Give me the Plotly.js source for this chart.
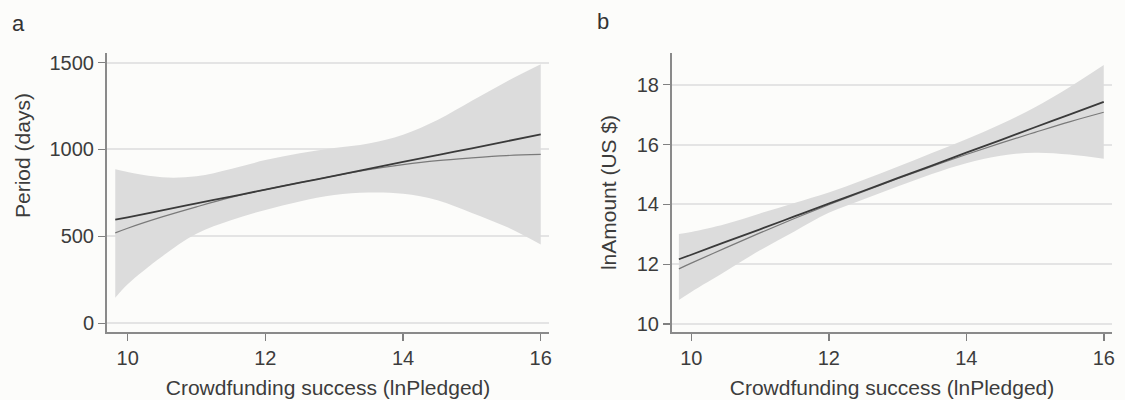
<!DOCTYPE html>
<html>
<head>
<meta charset="utf-8">
<script src="https://cdn.plot.ly/plotly-3.0.1.min.js"></script>
<style>html,body{margin:0;padding:0;background:#fcfcfa;}</style>
</head>
<body>
<div id="chart" style="width:1125px;height:400px;"></div>
<script>
// x positions (Crowdfunding success, lnPledged)
const xs = [9.82, 10, 10.5, 11, 11.5, 12, 12.5, 13, 13.5, 14, 14.5, 15, 15.5, 16];

// Panel a: Period (days)
const periodUpper  = [886, 870, 840, 846, 888, 939, 978, 1008, 1035, 1085, 1170, 1280, 1390, 1490];
const periodLower  = [147, 225, 385, 515, 593, 652, 701, 738, 752, 745, 708, 635, 555, 453];
const periodLinear = [596, 610, 650, 690, 729, 769, 809, 848, 888, 928, 968, 1007, 1047, 1087];
const periodQuad   = [520, 547, 612, 670, 724, 769, 809, 848, 884, 913, 936, 952, 965, 972];

// Panel b: lnAmount (US $)
const amountUpper  = [13.01, 13.08, 13.35, 13.70, 14.05, 14.40, 14.82, 15.26, 15.72, 16.18, 16.68, 17.25, 17.92, 18.66];
const amountLower  = [10.81, 11.08, 11.77, 12.47, 13.10, 13.72, 14.17, 14.60, 15.02, 15.38, 15.63, 15.73, 15.67, 15.53];
const amountLinear = [12.17, 12.32, 12.75, 13.17, 13.60, 14.03, 14.45, 14.88, 15.30, 15.73, 16.15, 16.58, 17.00, 17.43];
const amountQuad   = [11.85, 12.04, 12.55, 13.05, 13.53, 13.99, 14.43, 14.86, 15.27, 15.67, 16.05, 16.41, 16.76, 17.08];

const xTicks = [10, 12, 14, 16];
const periodTicks = [0, 500, 1000, 1500];
const amountTicks = [10, 12, 14, 16, 18];
const xTitle = 'Crowdfunding success (lnPledged)';
const periodTitle = 'Period (days)';
const amountTitle = 'lnAmount (US $)';

const bandColor = '#dcdcdc';
function bandLower(lower, xa, ya) {
  return {x: xs, y: lower, xaxis: xa, yaxis: ya, type: 'scatter', mode: 'lines',
    line: {width: 0, color: bandColor, shape: 'spline'}, hoverinfo: 'skip'};
}
function bandUpper(upper, xa, ya) {
  return {x: xs, y: upper, xaxis: xa, yaxis: ya, type: 'scatter', mode: 'lines',
    fill: 'tonexty', fillcolor: bandColor,
    line: {width: 0, color: bandColor, shape: 'spline'}, hoverinfo: 'skip'};
}
function line(ys, xa, ya, color, w) {
  return {x: xs, y: ys, xaxis: xa, yaxis: ya, type: 'scatter', mode: 'lines',
    line: {color: color, width: w, shape: 'spline'}};
}

const data = [
  bandLower(periodLower, 'x', 'y'),
  bandUpper(periodUpper, 'x', 'y'),
  line(periodQuad, 'x', 'y', '#7a7a7a', 1.2),
  line(periodLinear, 'x', 'y', '#3a3a3a', 1.8),
  bandLower(amountLower, 'x2', 'y2'),
  bandUpper(amountUpper, 'x2', 'y2'),
  line(amountQuad, 'x2', 'y2', '#7a7a7a', 1.2),
  line(amountLinear, 'x2', 'y2', '#3a3a3a', 1.8)
];

const axisCommon = {
  ticks: 'outside', ticklen: 7, tickwidth: 1.5, tickcolor: '#808080',
  showline: true, linecolor: '#8a8a8a', linewidth: 2,
  zeroline: false, tickfont: {size: 20, color: '#3c3c3c'}
};
const xCommon = Object.assign({}, axisCommon, {
  tickvals: xTicks, showgrid: false,
  title: {text: xTitle, font: {size: 21, color: '#3c3c3c'}, standoff: 12}
});
const yCommon = Object.assign({}, axisCommon, {
  showgrid: true, gridcolor: '#e4e4e4', gridwidth: 2
});

const layout = {
  width: 1125, height: 400,
  paper_bgcolor: '#fcfcfa', plot_bgcolor: 'rgba(0,0,0,0)',
  margin: {l: 0, r: 0, t: 53, b: 68},
  showlegend: false,
  font: {family: '"Liberation Sans", Arial, sans-serif', size: 20, color: '#3c3c3c'},
  xaxis: Object.assign({}, xCommon, {domain: [107/1125, 549/1125], range: [9.70, 16.12], anchor: 'y'}),
  yaxis: Object.assign({}, yCommon, {domain: [0, 1], range: [-50, 1555], tickvals: periodTicks, anchor: 'x'}),
  xaxis2: Object.assign({}, xCommon, {domain: [672/1125, 1112/1125], range: [9.72, 16.12], anchor: 'y2'}),
  yaxis2: Object.assign({}, yCommon, {domain: [0, 1], range: [9.74, 19.06], tickvals: amountTicks, anchor: 'x2',
    title: {text: amountTitle, font: {size: 21, color: '#3c3c3c'}, standoff: 14}}),
  annotations: [
    {text: 'a', xref: 'paper', yref: 'paper', x: 18/1125, y: (332-23)/279, xanchor: 'center', yanchor: 'middle',
     showarrow: false, font: {size: 22, color: '#333'}},
    {text: 'b', xref: 'paper', yref: 'paper', x: 603/1125, y: (332-21)/279, xanchor: 'center', yanchor: 'middle',
     showarrow: false, font: {size: 22, color: '#333'}},
    {text: periodTitle, xref: 'paper', yref: 'paper', x: 22/1125, y: (332-156)/279, xanchor: 'center', yanchor: 'middle',
     textangle: -90, showarrow: false, font: {size: 21, color: '#3c3c3c'}}
  ]
};

Plotly.newPlot('chart', data, layout, {displayModeBar: false, staticPlot: true});
</script>
</body>
</html>
